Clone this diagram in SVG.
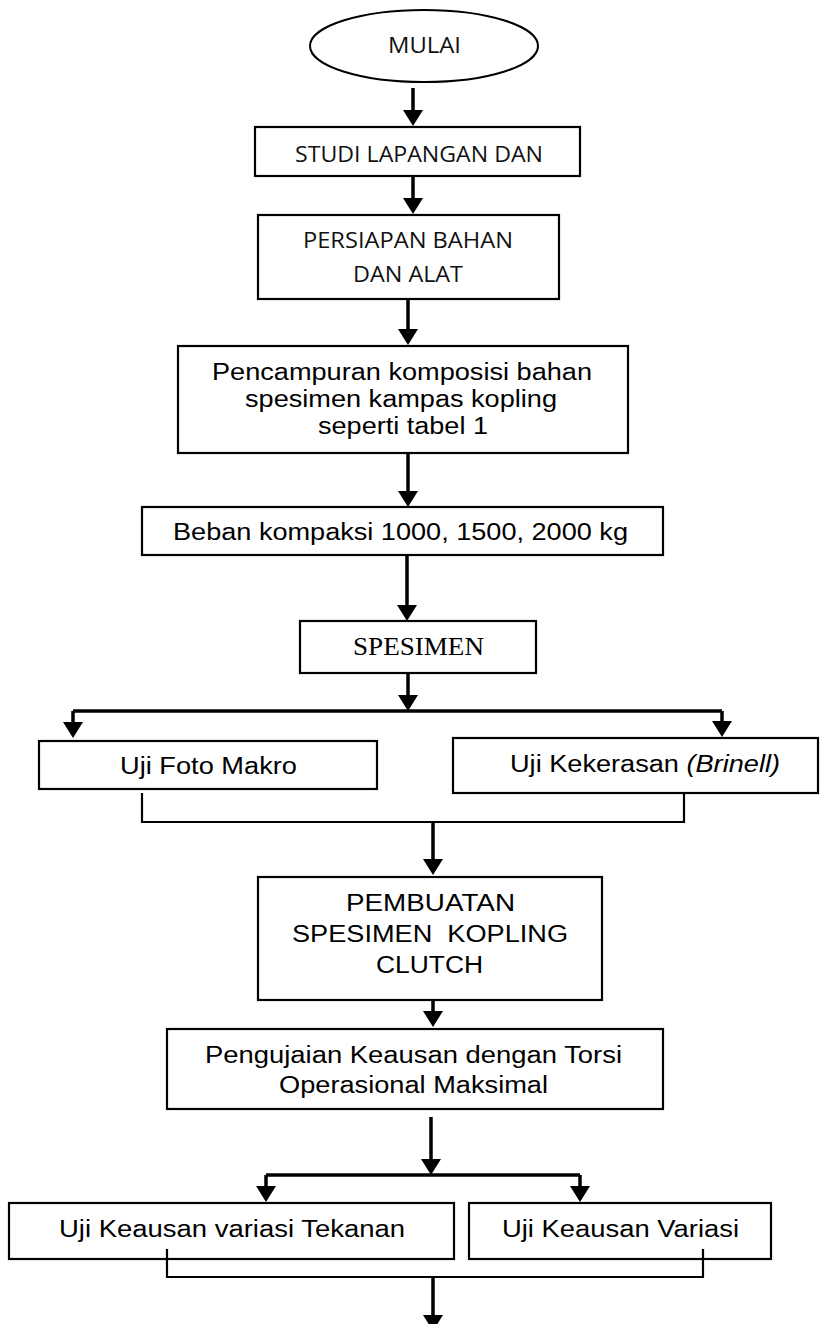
<svg xmlns="http://www.w3.org/2000/svg" width="827" height="1324" viewBox="0 0 827 1324">
<style>
.box{fill:#fff;stroke:#000;stroke-width:2.2}
.os{font-family:"Open Sans","DejaVu Sans",sans-serif;font-size:22.5px;fill:#111}
.ar{font-family:"Liberation Sans",Arial,sans-serif;font-size:23.5px;fill:#000}
.tm{font-family:"Liberation Serif","Times New Roman",serif;font-size:25px;fill:#000}
.arr{fill:none;stroke:#000;stroke-width:3.5;marker-end:url(#ah)}
.bar{fill:none;stroke:#000;stroke-width:3.3}
.mrg{fill:none;stroke:#000;stroke-width:2.2}
</style>
<defs>
<marker id="ah" markerUnits="userSpaceOnUse" viewBox="0 0 16 20" refX="2" refY="10" markerWidth="16" markerHeight="20" orient="auto">
<path d="M0,0 L16,10 L0,20 z" fill="#000"/>
</marker>
</defs>
<rect width="827" height="1324" fill="#fff"/>

<g id="connectors">
<path class="arr" d="M413,88 V112"/>
<path class="arr" d="M413,177 V200"/>
<path class="arr" d="M408,300 V331"/>
<path class="arr" d="M408,453 V493"/>
<path class="arr" d="M407,555 V607"/>
<path class="arr" d="M408,673 V697"/>
<path class="bar" d="M73,711 H722"/>
<path class="arr" d="M73,711 V724"/>
<path class="arr" d="M722,711 V723"/>
<path class="mrg" d="M142,793 V822 H684 V793"/>
<path class="arr" d="M433,822 V861"/>
<path class="arr" d="M433,1000 V1013"/>
<path class="arr" d="M431,1117 V1161"/>
<path class="bar" d="M266,1175 H580"/>
<path class="arr" d="M266,1175 V1188"/>
<path class="arr" d="M580,1175 V1188"/>
<path class="mrg" d="M167,1249 V1277 H703 V1249"/>
<path class="arr" d="M433,1277 V1317"/>
</g>

<g id="mulai">
<ellipse cx="424" cy="46" rx="114" ry="36" fill="#fff" stroke="#000" stroke-width="2"/>
<text class="os" x="388" y="53" textLength="73" lengthAdjust="spacingAndGlyphs">MULAI</text>
</g>

<g id="studi">
<rect class="box" x="255" y="127" width="325" height="49"/>
<text class="os" x="295" y="162" textLength="248" lengthAdjust="spacingAndGlyphs">STUDI LAPANGAN DAN</text>
</g>

<g id="persiapan">
<rect class="box" x="258" y="215" width="301" height="84"/>
<text class="os" x="303" y="248" textLength="210" lengthAdjust="spacingAndGlyphs">PERSIAPAN BAHAN</text>
<text class="os" x="353" y="282" textLength="110" lengthAdjust="spacingAndGlyphs">DAN ALAT</text>
</g>

<g id="pencampuran">
<rect class="box" x="178" y="346" width="450" height="107"/>
<text class="ar" x="212" y="380" textLength="380" lengthAdjust="spacingAndGlyphs">Pencampuran komposisi bahan</text>
<text class="ar" x="245" y="407" textLength="312" lengthAdjust="spacingAndGlyphs">spesimen kampas kopling</text>
<text class="ar" x="318" y="434" textLength="170" lengthAdjust="spacingAndGlyphs">seperti tabel 1</text>
</g>

<g id="beban">
<rect class="box" x="142" y="507" width="521" height="48"/>
<text class="ar" x="173" y="540" textLength="455" lengthAdjust="spacingAndGlyphs">Beban kompaksi 1000, 1500, 2000 kg</text>
</g>

<g id="spesimen">
<rect class="box" x="300" y="621" width="236" height="52"/>
<text class="tm" x="353" y="655" textLength="131" lengthAdjust="spacingAndGlyphs">SPESIMEN</text>
</g>

<g id="foto-makro">
<rect class="box" x="39" y="741" width="338" height="48"/>
<text class="ar" x="120" y="774" textLength="177" lengthAdjust="spacingAndGlyphs">Uji Foto Makro</text>
</g>

<g id="kekerasan">
<rect class="box" x="453" y="738" width="365" height="55"/>
<text class="ar" x="510" y="772" textLength="270" lengthAdjust="spacingAndGlyphs">Uji Kekerasan <tspan font-style="italic">(Brinell)</tspan></text>
</g>

<g id="pembuatan">
<rect class="box" x="258" y="877" width="344" height="123"/>
<text class="ar" x="346" y="911" textLength="169" lengthAdjust="spacingAndGlyphs">PEMBUATAN</text>
<text class="ar" x="292" y="942" textLength="276" lengthAdjust="spacingAndGlyphs" xml:space="preserve">SPESIMEN  KOPLING</text>
<text class="ar" x="376" y="973" textLength="107" lengthAdjust="spacingAndGlyphs">CLUTCH</text>
</g>

<g id="pengujian">
<rect class="box" x="167" y="1029" width="496" height="80"/>
<text class="ar" x="205" y="1063" textLength="417" lengthAdjust="spacingAndGlyphs">Pengujaian Keausan dengan Torsi</text>
<text class="ar" x="279" y="1093" textLength="269" lengthAdjust="spacingAndGlyphs">Operasional Maksimal</text>
</g>

<g id="keausan-tekanan">
<rect class="box" x="9" y="1203" width="445" height="56"/>
<text class="ar" x="59" y="1237" textLength="346" lengthAdjust="spacingAndGlyphs">Uji Keausan variasi Tekanan</text>
</g>

<g id="keausan-variasi">
<rect class="box" x="469" y="1203" width="302" height="56"/>
<text class="ar" x="502" y="1237" textLength="237" lengthAdjust="spacingAndGlyphs">Uji Keausan Variasi</text>
</g>
<path class="mrg" d="M167,1249 V1259 M703,1249 V1259"/>
</svg>
